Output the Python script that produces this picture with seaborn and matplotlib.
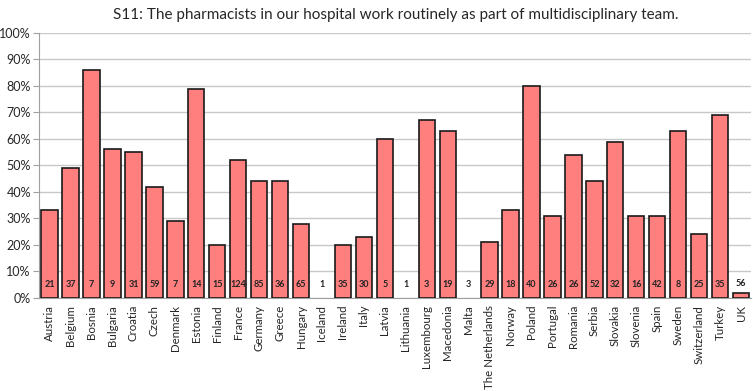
import seaborn as sns
import matplotlib.pyplot as plt
import numpy as np
import pandas as pd
from matplotlib.ticker import PercentFormatter, FixedLocator

countries = ["Austria", "Belgium", "Bosnia", "Bulgaria", "Croatia", "Czech",
             "Denmark", "Estonia", "Finland", "France", "Germany", "Greece",
             "Hungary", "Iceland", "Ireland", "Italy", "Latvia", "Lithuania",
             "Luxembourg", "Macedonia", "Malta", "The Netherlands", "Norway",
             "Poland", "Portugal", "Romania", "Serbia", "Slovakia", "Slovenia",
             "Spain", "Sweden", "Switzerland", "Turkey", "UK"]
percent_yes = [33, 49, 86, 56, 55, 42, 29, 79, 20, 52, 44, 44, 28, 0, 20, 23,
               60, 0, 67, 63, 0, 21, 33, 80, 31, 54, 44, 59, 31, 31, 63, 24,
               69, 2]
respondents = [21, 37, 7, 9, 31, 59, 7, 14, 15, 124, 85, 36, 65, 1, 35, 30,
               5, 1, 3, 19, 3, 29, 18, 40, 26, 26, 52, 32, 16, 42, 8, 25,
               35, 56]

df = pd.DataFrame({"country": countries, "pct": percent_yes, "n": respondents})

sns.set_style("white")
plt.rcParams['font.family'] = ['Lato', 'DejaVu Sans']

fig = plt.figure(figsize=(7.53, 3.91), dpi=100)
ax = fig.add_axes([0.052, 0.238, 0.946, 0.678])

sns.barplot(data=df, x="country", y="pct", color="#FF7F7F", saturation=1,
            width=0.78, edgecolor="#1a1a1a", linewidth=1.2, ax=ax, zorder=3)

# zero-height bars are not drawn in the original
for bar in ax.patches:
    if bar.get_height() == 0:
        bar.set_visible(False)

# respondent counts near the bottom of each bar
for i, n in enumerate(df["n"]):
    pct = df["pct"][i]
    y = pct + 3.5 if 0 < pct < 6 else 5
    ax.text(i, y, str(n), ha="center", va="center", fontsize=6.5,
            fontweight="bold", color="#222222", zorder=4)

ax.set_ylim(0, 100)
ax.set_xlim(-0.5, len(countries) - 0.5)
ax.set_yticks(np.arange(0, 101, 10))
ax.yaxis.set_major_formatter(PercentFormatter(decimals=0))
ax.yaxis.grid(True, color="#c8c8c8", linewidth=1.0, zorder=0)
ax.set_axisbelow(True)
ax.set_xlabel("")
ax.set_ylabel("")
ax.set_title("S11: The pharmacists in our hospital work routinely as part of multidisciplinary team.",
             fontsize=11, pad=10)

ax.tick_params(axis="x", which="major", length=0, labelsize=8.3, rotation=90, pad=5)
ax.xaxis.set_minor_locator(FixedLocator(np.arange(-0.5, len(countries), 1)))
ax.tick_params(axis="x", which="minor", length=4, color="#a0a0a0", width=1)
ax.tick_params(axis="y", labelsize=9, length=4, color="#a0a0a0", left=True, pad=2)

for side in ["top", "right"]:
    ax.spines[side].set_visible(False)
ax.spines["left"].set_color("#a0a0a0")
ax.spines["bottom"].set_color("#a0a0a0")

plt.savefig("out.png", dpi=100)
plt.close()
